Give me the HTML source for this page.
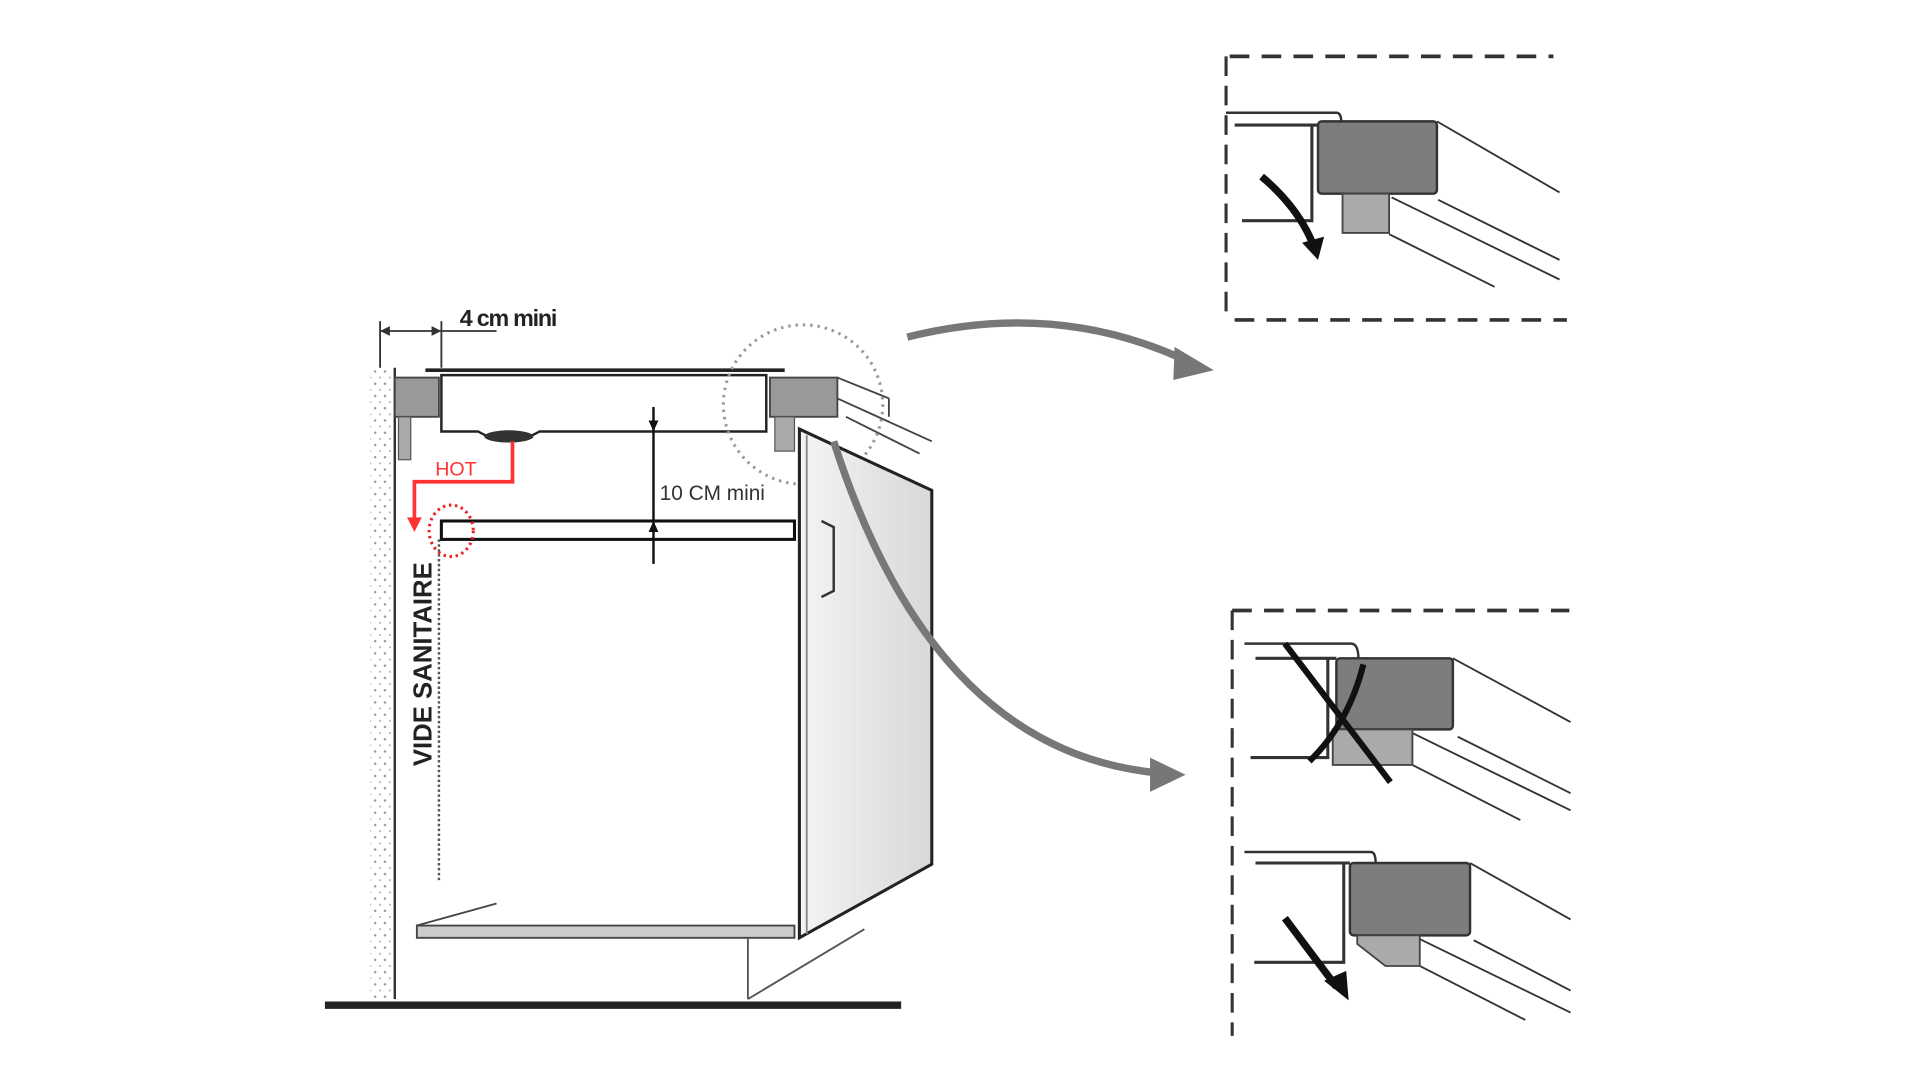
<!DOCTYPE html>
<html><head><meta charset="utf-8"><style>html,body{margin:0;padding:0;background:#fff;}svg{display:block}</style></head>
<body>
<svg width="1920" height="1080" viewBox="0 0 1566 881" preserveAspectRatio="none" xmlns="http://www.w3.org/2000/svg">
<defs>
<linearGradient id="side" x1="0" x2="1" y1="0" y2="0"><stop offset="0" stop-color="#f4f4f4"/><stop offset="1" stop-color="#d8d8d8"/></linearGradient>
<pattern id="dots" width="8" height="10" patternUnits="userSpaceOnUse"><circle cx="2" cy="3" r="1" fill="#999"/><circle cx="6" cy="8" r="0.8" fill="#aaa"/></pattern>
</defs>
<rect width="1566" height="881" fill="#fff"/>
<!-- wall -->
<rect x="302" y="300" width="20" height="515" fill="url(#dots)"/>
<line x1="322" y1="300" x2="322" y2="815" stroke="#333" stroke-width="2"/>
<!-- floor -->
<line x1="265" y1="820" x2="735" y2="820" stroke="#222" stroke-width="6"/>
<!-- 4cm dimension -->
<line x1="310" y1="262" x2="310" y2="300" stroke="#333" stroke-width="1.5"/>
<line x1="360" y1="262" x2="360" y2="300" stroke="#333" stroke-width="1.5"/>
<line x1="310" y1="270" x2="405" y2="270" stroke="#333" stroke-width="1.5"/>
<path d="M310,270 l8,-4 v8z M360,270 l-8,-4 v8z" fill="#333"/>
<text x="375" y="266" font-family="Liberation Sans, sans-serif" font-weight="bold" font-size="19" fill="#222" letter-spacing="-1">4 cm mini</text>
<!-- countertop -->
<line x1="347" y1="302" x2="640" y2="302" stroke="#222" stroke-width="3"/>
<path d="M360,306 H625 V352 H440 Q430,358 415,360 Q400,358 390,352 H360 Z" fill="#fff" stroke="#222" stroke-width="2"/>
<ellipse cx="415" cy="356" rx="20" ry="5" fill="#333"/>
<rect x="322" y="308" width="36" height="32" fill="#999" stroke="#444" stroke-width="1.5"/>
<rect x="325" y="340" width="10" height="35" fill="#aaa" stroke="#555"/>
<rect x="628" y="308" width="55" height="32" fill="#999" stroke="#444" stroke-width="1.5"/>
<rect x="632" y="340" width="16" height="28" fill="#aaa" stroke="#555"/>
<line x1="683" y1="308" x2="725" y2="325" stroke="#444" stroke-width="1.5"/>
<line x1="683" y1="325" x2="760" y2="360" stroke="#444" stroke-width="1.5"/>
<line x1="690" y1="340" x2="750" y2="370" stroke="#444" stroke-width="1.5"/>
<line x1="725" y1="325" x2="725" y2="340" stroke="#444" stroke-width="1.5"/>
<circle cx="655" cy="330" r="65" fill="none" stroke="#999" stroke-width="2.5" stroke-dasharray="2 4"/>
<!-- cabinet side -->
<polygon points="652,350 760,400 760,705 652,765" fill="url(#side)" stroke="#222" stroke-width="2.5"/>
<line x1="658" y1="355" x2="658" y2="762" stroke="#888" stroke-width="1.5"/>
<path d="M670,425 L680,430 L680,482 L670,487" fill="none" stroke="#333" stroke-width="2"/>
<!-- shelf -->
<rect x="360" y="425" width="288" height="15" fill="#fff" stroke="#111" stroke-width="2.5"/>
<!-- 10 cm dim -->
<line x1="533" y1="332" x2="533" y2="460" stroke="#111" stroke-width="2"/>
<path d="M533,352 l-4,-9 h8z M533,425 l-4,9 h8z" fill="#111"/>
<text x="538" y="408" font-family="Liberation Sans, sans-serif" font-size="17" fill="#333">10 CM mini</text>
<!-- HOT -->
<text x="355" y="388" font-family="Liberation Sans, sans-serif" font-size="16" fill="#f33">HOT</text>
<path d="M418,360 V393 H338 V425" fill="none" stroke="#f33" stroke-width="3"/>
<path d="M332,422 L338,434 L344,422z" fill="#f33"/>
<ellipse cx="368" cy="433" rx="18" ry="21" fill="none" stroke="#e22" stroke-width="2.5" stroke-dasharray="2 3"/>
<!-- vide sanitaire -->
<text transform="translate(352,625) rotate(-90)" font-family="Liberation Sans, sans-serif" font-weight="bold" font-size="21" fill="#222">VIDE SANITAIRE</text>
<line x1="358" y1="440" x2="358" y2="720" stroke="#555" stroke-width="2" stroke-dasharray="2 2"/>
<!-- bottom -->
<polygon points="340,755 648,755 648,765 340,765" fill="#ccc" stroke="#444" stroke-width="1.5"/>
<line x1="340" y1="755" x2="405" y2="737" stroke="#444" stroke-width="1.5"/>
<line x1="610" y1="765" x2="610" y2="815" stroke="#555" stroke-width="1.5"/>
<line x1="610" y1="815" x2="705" y2="758" stroke="#555" stroke-width="1.5"/>
<!-- curved arrows -->
<path d="M740,275 Q860,245 965,293" fill="none" stroke="#777" stroke-width="6"/>
<path d="M958,283 L990,302 L957,310 Z" fill="#777"/>
<path d="M680,360 Q760,610 940,630" fill="none" stroke="#777" stroke-width="6"/>
<path d="M938,618 L967,632 L938,646 Z" fill="#777"/>
<!-- top inset -->
<g stroke="#333" fill="none">
<line x1="1003" y1="46" x2="1267" y2="46" stroke-width="3" stroke-dasharray="16 10"/>
<line x1="1007" y1="261" x2="1278" y2="261" stroke-width="3" stroke-dasharray="16 10"/>
<line x1="1000" y1="46" x2="1000" y2="261" stroke-width="2.5" stroke-dasharray="16 8"/>
<path d="M1000,92 H1090 Q1094,92 1094,100" stroke-width="2"/>
<path d="M1007,102 H1075" stroke-width="2.5"/>
<path d="M1070,102 V180 H1013" stroke-width="2.5"/>
<line x1="1172" y1="99" x2="1272" y2="157" stroke-width="1.5"/>
<line x1="1135" y1="161" x2="1272" y2="228" stroke-width="1.5"/>
<line x1="1173" y1="163" x2="1272" y2="212" stroke-width="1.5"/>
<line x1="1133" y1="191" x2="1219" y2="234" stroke-width="1.5"/>
</g>
<rect x="1075" y="99" width="97" height="59" rx="3" fill="#7d7d7d" stroke="#333" stroke-width="2"/>
<rect x="1095" y="158" width="38" height="32" fill="#aaa" stroke="#444" stroke-width="1.5"/>
<path d="M1029,144 Q1060,170 1072,202" fill="none" stroke="#111" stroke-width="6"/>
<path d="M1062,198 L1075,212 L1080,193 Z" fill="#111"/>
<!-- bottom inset -->
<g stroke="#333" fill="none">
<line x1="1005" y1="498" x2="1280" y2="498" stroke-width="3" stroke-dasharray="16 10"/>
<line x1="1005" y1="498" x2="1005" y2="845" stroke-width="2.5" stroke-dasharray="16 8"/>
<path d="M1015,525 H1102 Q1108,525 1108,538" stroke-width="2"/>
<path d="M1024,537 H1090" stroke-width="2.5"/>
<path d="M1083,537 V618 H1020" stroke-width="2.5"/>
<line x1="1185" y1="537" x2="1281" y2="589" stroke-width="1.5"/>
<line x1="1152" y1="598" x2="1281" y2="661" stroke-width="1.5"/>
<line x1="1189" y1="601" x2="1281" y2="647" stroke-width="1.5"/>
<line x1="1152" y1="624" x2="1240" y2="669" stroke-width="1.5"/>
<path d="M1015,695 H1118 Q1122,695 1122,704" stroke-width="2"/>
<path d="M1024,704 H1101" stroke-width="2.5"/>
<path d="M1096,704 V785 H1023" stroke-width="2.5"/>
<line x1="1199" y1="704" x2="1281" y2="750" stroke-width="1.5"/>
<line x1="1158" y1="766" x2="1281" y2="826" stroke-width="1.5"/>
<line x1="1202" y1="767" x2="1281" y2="808" stroke-width="1.5"/>
<line x1="1158" y1="788" x2="1244" y2="832" stroke-width="1.5"/>
</g>
<rect x="1090" y="537" width="95" height="58" rx="3" fill="#7d7d7d" stroke="#333" stroke-width="2"/>
<rect x="1087" y="595" width="65" height="29" fill="#aaa" stroke="#444" stroke-width="1.5"/>
<line x1="1048" y1="525" x2="1134" y2="638" stroke="#111" stroke-width="5"/>
<path d="M1112,542 Q1100,590 1068,621" fill="none" stroke="#111" stroke-width="5"/>
<rect x="1101" y="704" width="98" height="59" rx="3" fill="#7d7d7d" stroke="#333" stroke-width="2"/>
<polygon points="1107,763 1158,763 1158,788 1130,788 1107,770" fill="#aaa" stroke="#444" stroke-width="1.5"/>
<path d="M1048,749 L1090,805" stroke="#111" stroke-width="6"/>
<path d="M1080,800 L1100,816 L1098,792 Z" fill="#111"/>
</svg>
</body></html>
